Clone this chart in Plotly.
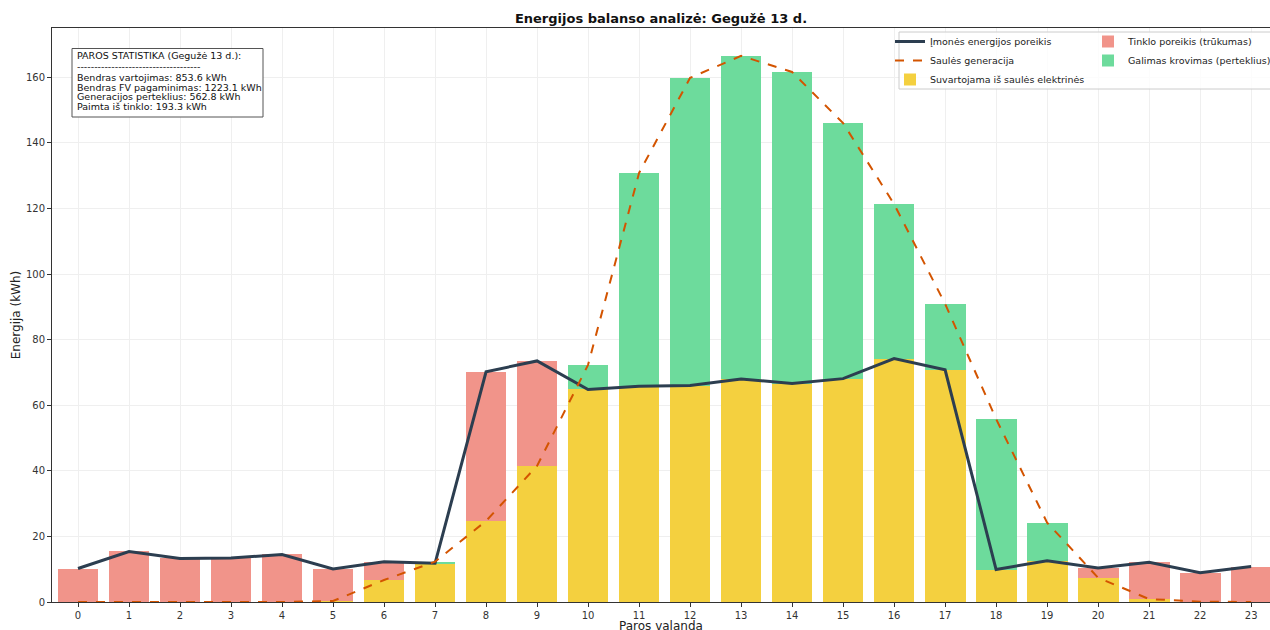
import numpy as np
import plotly.graph_objects as go

hours = list(range(24))
demand = [10.2, 15.4, 13.3, 13.4, 14.5, 10.1, 12.3, 11.8, 70.2, 73.5, 64.8, 65.8,
          66.0, 68.0, 66.6, 68.1, 74.2, 70.8, 9.9, 12.6, 10.4, 12.1, 8.9, 10.8]
solar = [0.0, 0.0, 0.0, 0.0, 0.0, 0.3, 6.7, 12.3, 24.7, 41.5, 72.3, 130.8,
         159.8, 166.5, 161.6, 146.0, 121.3, 90.9, 55.8, 24.2, 7.4, 0.9, 0.1, 0.0]

stats_lines = [
    "PAROS STATISTIKA (Gegužė 13 d.):",
    "-" * 36,
    "Bendras vartojimas: 853.6 kWh",
    "Bendras FV pagaminimas: 1223.1 kWh",
    "Generacijos perteklius: 562.8 kWh",
    "Paimta iš tinklo: 193.3 kWh",
]

d = np.array(demand)
s = np.array(solar)
self_use = np.minimum(d, s)
grid = np.maximum(d - s, 0)
surplus = np.maximum(s - d, 0)

FONT = "DejaVu Sans"
fig = go.Figure()
fig.add_trace(go.Bar(x=hours, y=self_use, width=0.8, marker=dict(color="#F4D03F", line_width=0),
                     name="Suvartojama iš saulės elektrinės", legend="legend", legendrank=3))
fig.add_trace(go.Bar(x=hours, y=grid, width=0.8, marker=dict(color="#F1948A", line_width=0),
                     name="Tinklo poreikis (trūkumas)", legend="legend2", legendrank=1))
fig.add_trace(go.Bar(x=hours, y=surplus, width=0.8, marker=dict(color="#6DDB9C", line_width=0),
                     name="Galimas krovimas (perteklius)", legend="legend2", legendrank=2))
fig.add_trace(go.Scatter(x=hours, y=demand, mode="lines", line=dict(color="#2C3E50", width=3),
                         name="Įmonės energijos poreikis", legend="legend", legendrank=1))
fig.add_trace(go.Scatter(x=hours, y=solar, mode="lines", line=dict(color="#D35400", width=2, dash="dash"),
                         name="Saulės generacija", legend="legend", legendrank=2))

# page body margin is removed (post_script), so figure pixels == page pixels
W, H = 1270, 630
ml, mr, mt, mb = 52, 0, 28, 28
pw = W - ml - mr
ph = H - mt - mb


def px_x(px):
    return (px - ml) / pw


def px_y(py):
    return (H - mb - py) / ph


stat_centers = [55.7, 66.3, 77.3, 87.3, 96.9, 106.2]
annotations = [dict(text=t, xref="paper", yref="paper", x=px_x(75), y=px_y(yc),
                    xanchor="left", yanchor="middle", align="left", showarrow=False,
                    font=dict(size=9.5, color="#111"))
               for t, yc in zip(stats_lines, stat_centers)]
# x-axis title (placed like the reference, partly below the visible page edge)
annotations.append(dict(text="Paros valanda", xref="paper", yref="paper", x=0.5, y=px_y(626),
                        xanchor="center", yanchor="middle", showarrow=False,
                        font=dict(size=12, color="#222")))

fig.update_layout(
    width=W, height=H,
    margin=dict(l=ml, r=mr, t=mt, b=mb, autoexpand=False),
    barmode="stack", bargap=0,
    plot_bgcolor="white", paper_bgcolor="white",
    font=dict(family=FONT, size=10, color="#222"),
    title=dict(text="<b>Energijos balanso analizė: Gegužė 13 d.</b>", x=px_x(661), xref="paper",
               xanchor="center", y=1 - 18 / H, yanchor="middle", font=dict(size=13, color="#111")),
    xaxis=dict(range=[-0.51, 23.37], tickmode="array", tickvals=hours, ticktext=[str(h) for h in hours],
               showgrid=True, gridcolor="#efefef", gridwidth=1, zeroline=False, automargin=False,
               showline=True, linecolor="#333", linewidth=1, mirror=True,
               ticks="outside", ticklen=4, tickcolor="#333", tickfont=dict(size=10, color="#333")),
    yaxis=dict(range=[0, 175], tickvals=[0, 20, 40, 60, 80, 100, 120, 140, 160],
               showgrid=True, gridcolor="#efefef", gridwidth=1, zeroline=False, automargin=False,
               showline=True, linecolor="#333", linewidth=1, mirror=True,
               ticks="outside", ticklen=4, tickcolor="#333", tickfont=dict(size=10, color="#333"),
               title=dict(text="Energija (kWh)", font=dict(size=12, color="#222"), standoff=2)),
    legend=dict(x=px_x(890), y=px_y(27), xanchor="left", yanchor="top", bgcolor="rgba(0,0,0,0)",
                font=dict(size=9.5, color="#222"), tracegroupgap=0, traceorder="normal"),
    legend2=dict(x=px_x(1088), y=px_y(27), xanchor="left", yanchor="top", bgcolor="rgba(0,0,0,0)",
                 font=dict(size=9.5, color="#222"), tracegroupgap=0, traceorder="normal"),
    shapes=[dict(type="rect", xref="paper", yref="paper", x0=px_x(899), x1=px_x(1290),
                 y0=px_y(89), y1=px_y(32), line=dict(color="#cccccc", width=1),
                 fillcolor="rgba(255,255,255,0.8)", layer="above"),
            dict(type="rect", xref="paper", yref="paper", x0=px_x(72), x1=px_x(263),
                 y0=px_y(117), y1=px_y(48.5), line=dict(color="#555", width=1),
                 fillcolor="white", layer="above")],
    annotations=annotations,
)

fig.write_html("out.html", config={"displayModeBar": False},
               post_script="document.body.style.margin='0';document.body.style.overflow='hidden';")
